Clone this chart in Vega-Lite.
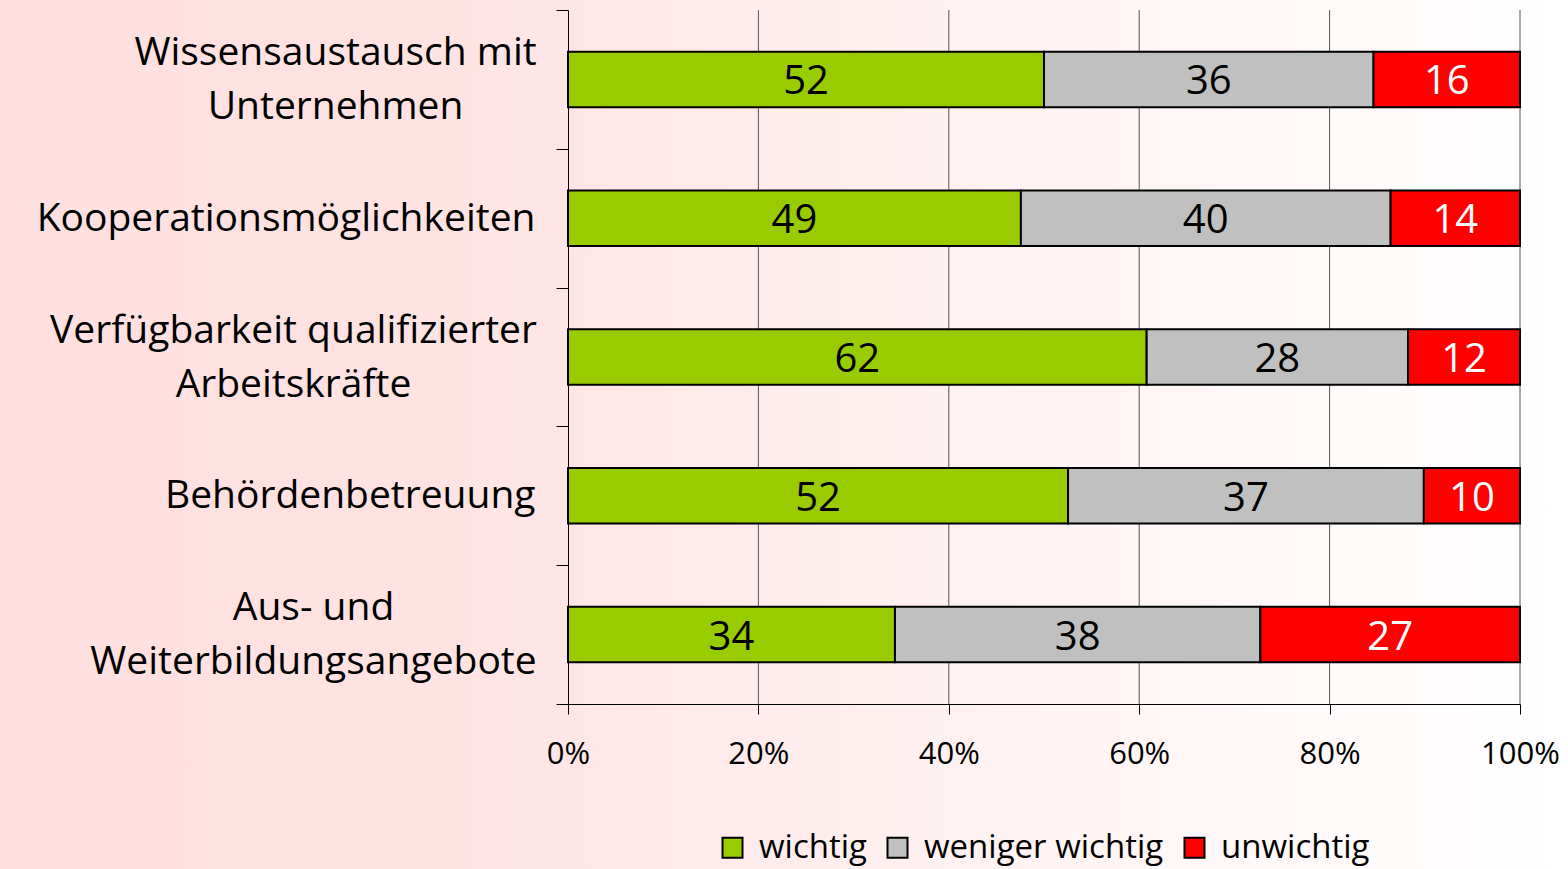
{
  "$schema": "https://vega.github.io/schema/vega-lite/v6.json",
  "width": 1568,
  "height": 869,
  "autosize": {"type": "none"},
  "padding": 0,
  "background": "#FFFFFF",
  "config": {
    "font": "Open Sans",
    "view": {
      "stroke": null,
      "fill": {
        "gradient": "linear", "x1": 0, "y1": 0, "x2": 1, "y2": 0,
        "stops": [
          {"offset": 0, "color": "#FFE0E0"},
          {"offset": 0.25, "color": "#FFE2E2"},
          {"offset": 0.41, "color": "#FFE8E8"},
          {"offset": 0.57, "color": "#FFF0F0"},
          {"offset": 0.77, "color": "#FFF7F7"},
          {"offset": 1, "color": "#FFFFFF"}
        ]
      }
    },
    "axis": {"grid": false}
  },
  "data": {
    "values": [
      {"cat": "Wissensaustausch mit Unternehmen", "k": "wichtig", "v": 52},
      {"cat": "Wissensaustausch mit Unternehmen", "k": "weniger wichtig", "v": 36},
      {"cat": "Wissensaustausch mit Unternehmen", "k": "unwichtig", "v": 16},
      {"cat": "Kooperationsmöglichkeiten", "k": "wichtig", "v": 49},
      {"cat": "Kooperationsmöglichkeiten", "k": "weniger wichtig", "v": 40},
      {"cat": "Kooperationsmöglichkeiten", "k": "unwichtig", "v": 14},
      {"cat": "Verfügbarkeit qualifizierter Arbeitskräfte", "k": "wichtig", "v": 62},
      {"cat": "Verfügbarkeit qualifizierter Arbeitskräfte", "k": "weniger wichtig", "v": 28},
      {"cat": "Verfügbarkeit qualifizierter Arbeitskräfte", "k": "unwichtig", "v": 12},
      {"cat": "Behördenbetreuung", "k": "wichtig", "v": 52},
      {"cat": "Behördenbetreuung", "k": "weniger wichtig", "v": 37},
      {"cat": "Behördenbetreuung", "k": "unwichtig", "v": 10},
      {"cat": "Aus- und Weiterbildungsangebote", "k": "wichtig", "v": 34},
      {"cat": "Aus- und Weiterbildungsangebote", "k": "weniger wichtig", "v": 38},
      {"cat": "Aus- und Weiterbildungsangebote", "k": "unwichtig", "v": 27}
    ]
  },
  "resolve": {"scale": {"y": "independent"}},
  "layer": [
    {
      "data": {"values": [{"g": 0.2}, {"g": 0.4}, {"g": 0.6}, {"g": 0.8}, {"g": 1}]},
      "mark": {"type": "rule", "color": "#555555", "strokeWidth": 1},
      "encoding": {
        "x": {
          "field": "g", "type": "quantitative",
          "scale": {"domain": [0, 1], "range": [568, 1520], "nice": false, "zero": false},
          "axis": {
            "title": null, "orient": "bottom", "offset": -165,
            "values": [0, 0.2, 0.4, 0.6, 0.8, 1], "format": ".0%",
            "tickSize": 10, "tickColor": "black", "tickWidth": 1,
            "domainColor": "black", "domainWidth": 1,
            "labelFontSize": 31, "labelColor": "black", "labelPadding": 25,
            "labelFlush": false, "labelOverlap": false, "labelBound": false, "grid": false
          }
        },
        "y": {"datum": 0, "type": "quantitative", "scale": {"domain": [0, 1], "range": [10, 704]}, "axis": null},
        "y2": {"datum": 1}
      }
    },
    {
      "transform": [
        {"calculate": "indexof(['wichtig','weniger wichtig','unwichtig'], datum.k)", "as": "o"},
        {"stack": "v", "groupby": ["cat"], "sort": [{"field": "o", "order": "ascending"}], "offset": "normalize", "as": ["x0", "x1"]},
        {"calculate": "(datum.x0 + datum.x1) / 2", "as": "xm"}
      ],
      "layer": [
        {
          "mark": {"type": "bar", "stroke": "black", "strokeWidth": 2, "height": {"band": 0.4}},
          "encoding": {
            "y": {
              "field": "cat", "type": "nominal",
              "sort": ["Wissensaustausch mit Unternehmen", "Kooperationsmöglichkeiten", "Verfügbarkeit qualifizierter Arbeitskräfte", "Behördenbetreuung", "Aus- und Weiterbildungsangebote"],
              "scale": {"range": [10, 704], "paddingInner": 0, "paddingOuter": 0},
              "axis": {
                "title": null, "orient": "left", "offset": -568,
                "tickBand": "extent", "tickSize": 12, "tickColor": "black", "tickWidth": 1,
                "domainColor": "black", "domainWidth": 1,
                "labelFontSize": 39, "labelColor": "black", "labelLimit": 0,
                "labelLineHeight": 54, "labelBaseline": "middle",
                "labelAlign": {"condition": {"test": "indexof(['Wissensaustausch mit Unternehmen','Verfügbarkeit qualifizierter Arbeitskräfte','Aus- und Weiterbildungsangebote'], datum.value) >= 0", "value": "center"}, "value": "right"},
                "labelOffset": {"condition": {"test": "indexof(['Wissensaustausch mit Unternehmen','Verfügbarkeit qualifizierter Arbeitskräfte','Aus- und Weiterbildungsangebote'], datum.value) >= 0", "value": -27}, "value": 0},
                "labelPadding": {"condition": [
                  {"test": "datum.value === 'Wissensaustausch mit Unternehmen'", "value": 221},
                  {"test": "datum.value === 'Verfügbarkeit qualifizierter Arbeitskräfte'", "value": 263},
                  {"test": "datum.value === 'Aus- und Weiterbildungsangebote'", "value": 243}
                ], "value": 21},
                "labelExpr": "datum.value === 'Wissensaustausch mit Unternehmen' ? ['Wissensaustausch mit', 'Unternehmen'] : datum.value === 'Verfügbarkeit qualifizierter Arbeitskräfte' ? ['Verfügbarkeit qualifizierter', 'Arbeitskräfte'] : datum.value === 'Aus- und Weiterbildungsangebote' ? ['Aus- und', 'Weiterbildungsangebote'] : datum.value"
              }
            },
            "x": {"field": "x0", "type": "quantitative", "axis": {"title": null}},
            "x2": {"field": "x1"},
            "color": {
              "field": "k", "type": "nominal",
              "scale": {"domain": ["wichtig", "weniger wichtig", "unwichtig"], "range": ["#99CC00", "#C0C0C0", "#FF0000"]},
              "legend": {
                "title": null, "orient": "none", "legendX": 716, "legendY": 831,
                "direction": "horizontal", "symbolType": "square", "symbolSize": 400,
                "symbolStrokeColor": "black", "symbolStrokeWidth": 2, "symbolOpacity": 1,
                "labelFontSize": 33, "labelColor": "black", "labelOffset": 10, "labelLimit": 0,
                "columnPadding": 14, "padding": 0
              }
            }
          }
        },
        {
          "mark": {"type": "text", "fontSize": 40, "align": "center", "baseline": "middle", "dy": 3},
          "encoding": {
            "y": {
              "field": "cat", "type": "nominal",
              "sort": ["Wissensaustausch mit Unternehmen", "Kooperationsmöglichkeiten", "Verfügbarkeit qualifizierter Arbeitskräfte", "Behördenbetreuung", "Aus- und Weiterbildungsangebote"]
            },
            "x": {"field": "xm", "type": "quantitative", "axis": {"title": null}},
            "text": {"field": "v", "type": "quantitative"},
            "color": {"condition": {"test": "datum.k === 'unwichtig'", "value": "white"}, "value": "black"}
          }
        }
      ]
    }
  ]
}
